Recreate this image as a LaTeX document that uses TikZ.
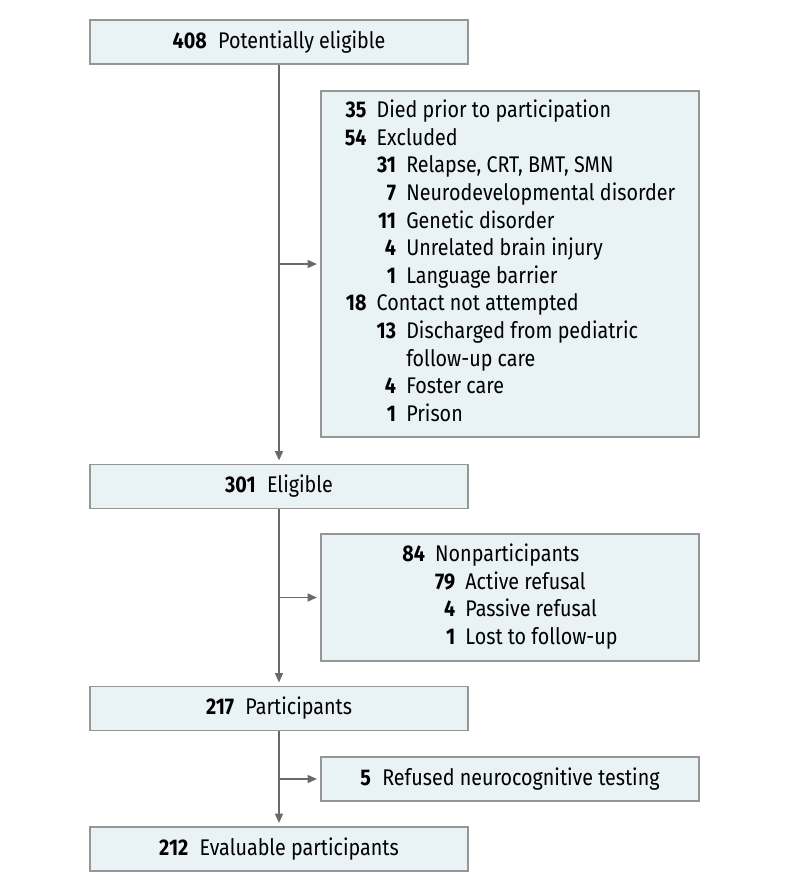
\documentclass[tikz,border=0pt]{standalone}
\usepackage{fontspec}
\setmainfont{Fira Sans}[FakeStretch=0.87]
\usetikzlibrary{arrows.meta}
\definecolor{boxfill}{RGB}{233,242,245}
\definecolor{boxline}{RGB}{150,150,150}
\definecolor{flowline}{RGB}{105,105,105}
\newcommand{\cnt}[2]{\textbf{#1}\hspace{0.5em}#2}

\begin{document}
\begin{tikzpicture}[
		x=0.75pt, y=-0.75pt,
		every node/.style={font=\fontsize{17}{20.7}\selectfont},
		mainbox/.style={draw=boxline, fill=boxfill, line width=1.1pt, minimum width=283.5pt, minimum height=33pt, inner sep=0pt},
		sidebox/.style={mainbox},
		flow/.style={draw=flowline, line width=1.1pt, -{Triangle[length=7pt,width=6pt]}, shorten >=2.5pt}
	]
	\useasboundingbox (0,0) rectangle (794,892);
	\node[mainbox] (pot) at (279,42) {\cnt{408}{Potentially eligible}};
	\node[sidebox, minimum height=259.5pt] (excl) at (510,264) {%
		\begin{tabular}{@{}r@{\hspace{0.45em}}r@{\hspace{0.45em}}l@{}}
			\textbf{35} & \multicolumn{2}{@{}l@{}}{Died prior to participation}\\
			\textbf{54} & \multicolumn{2}{@{}l@{}}{Excluded}\\
			& \textbf{31} & Relapse, CRT, BMT, SMN\\
			& \textbf{7} & Neurodevelopmental disorder\\
			& \textbf{11} & Genetic disorder\\
			& \textbf{4} & Unrelated brain injury\\
			& \textbf{1} & Language barrier\\
			\textbf{18} & \multicolumn{2}{@{}l@{}}{Contact not attempted}\\
			& \textbf{13} & Discharged from pediatric\\
			& & follow-up care\\
			& \textbf{4} & Foster care\\
			& \textbf{1} & Prison
		\end{tabular}};
	\node[mainbox] (elig) at (279,486.5) {\cnt{301}{Eligible}};
	\node[sidebox, minimum height=95.25pt] (nonp) at (510,597.5) {%
		\begin{tabular}{@{}r@{\hspace{0.45em}}r@{\hspace{0.45em}}l@{}}
			\textbf{84} & \multicolumn{2}{@{}l@{}}{Nonparticipants}\\
			& \textbf{79} & Active refusal\\
			& \textbf{4} & Passive refusal\\
			& \textbf{1} & Lost to follow-up
		\end{tabular}};
	\node[mainbox] (part) at (279,708.5) {\cnt{217}{Participants}};
	\node[sidebox] (refu) at (510,779) {\cnt{5}{Refused neurocognitive testing}};
	\node[mainbox] (eval) at (279,849) {\cnt{212}{Evaluable participants}};
	\draw[flow] (pot) -- (elig);
	\draw[flow] (pot.south |- excl.west) -- (excl.west);
	\draw[flow] (elig) -- (part);
	\draw[flow] (elig.south |- nonp.west) -- (nonp.west);
	\draw[flow] (part) -- (eval);
	\draw[flow] (part.south |- refu.west) -- (refu.west);
\end{tikzpicture}
\end{document}
